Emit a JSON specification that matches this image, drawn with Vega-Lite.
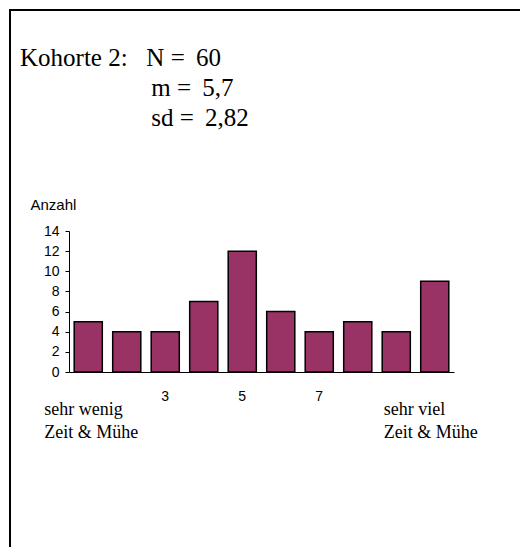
{
  "$schema": "https://vega.github.io/schema/vega-lite/v6.json",
  "width": 512,
  "height": 539,
  "autosize": {"type": "none"},
  "padding": {"left": 10, "top": 10, "right": -2, "bottom": -2},
  "background": "white",
  "config": {
    "view": {"stroke": "black", "strokeWidth": 2, "fill": "white"},
    "axis": {"labelColor": "black", "domainColor": "black", "tickColor": "black", "grid": false, "labelFont": "Liberation Sans", "labelFontSize": 14, "titleColor": "black"}
  },
  "title": {
    "text": [
      "Kohorte 2:\u00a0\u00a0\u00a0N =\u2009 60",
      "\u200b\u00a0\u00a0\u00a0\u00a0\u00a0\u00a0\u00a0\u00a0\u00a0\u00a0\u00a0\u00a0\u00a0\u00a0\u00a0\u00a0\u00a0\u00a0\u00a0\u00a0\u00a0m =\u2009 5,7",
      "\u200b\u00a0\u00a0\u00a0\u00a0\u00a0\u00a0\u00a0\u00a0\u00a0\u00a0\u00a0\u00a0\u00a0\u00a0\u00a0\u00a0\u00a0\u00a0\u00a0\u00a0\u00a0sd =\u2009 2,82"
    ],
    "anchor": "start",
    "frame": "group",
    "orient": "top",
    "baseline": "top",
    "offset": 0,
    "dx": 10,
    "dy": 121,
    "font": "Liberation Serif",
    "fontSize": 25,
    "fontWeight": "normal",
    "color": "black",
    "lineHeight": 30
  },
  "data": {
    "values": [
      {"Wert": 1, "Anzahl": 5},
      {"Wert": 2, "Anzahl": 4},
      {"Wert": 3, "Anzahl": 4},
      {"Wert": 4, "Anzahl": 7},
      {"Wert": 5, "Anzahl": 12},
      {"Wert": 6, "Anzahl": 6},
      {"Wert": 7, "Anzahl": 4},
      {"Wert": 8, "Anzahl": 5},
      {"Wert": 9, "Anzahl": 4},
      {"Wert": 10, "Anzahl": 9}
    ]
  },
  "layer": [
    {
      "mark": {"type": "bar", "color": "#993366", "stroke": "black", "strokeWidth": 1.5, "clip": false},
      "encoding": {
        "x": {
          "field": "Wert",
          "type": "ordinal",
          "scale": {"type": "band", "range": [59, 444], "paddingInner": 0.27, "paddingOuter": 0.135},
          "axis": {
            "orient": "bottom",
            "offset": -177,
            "title": null,
            "ticks": false,
            "tickSize": 0,
            "labelAngle": 0,
            "labelPadding": 17,
            "labelBaseline": "top",
            "labelExpr": "(datum.value == 3 || datum.value == 5 || datum.value == 7) ? datum.label : ''"
          }
        },
        "y": {
          "field": "Anzahl",
          "type": "quantitative",
          "scale": {"domain": [0, 14], "range": [362, 221], "nice": false},
          "axis": {
            "orient": "left",
            "offset": -59,
            "values": [0, 2, 4, 6, 8, 10, 12, 14],
            "tickSize": 4,
            "labelPadding": 6,
            "title": "Anzahl",
            "titleAngle": 0,
            "titleAlign": "left",
            "titleBaseline": "middle",
            "titleX": -39,
            "titleY": 194,
            "titleFont": "Liberation Sans",
            "titleFontSize": 15,
            "titleFontWeight": "normal"
          }
        }
      }
    },
    {
      "data": {"values": [{"Wert": 1, "text": ["sehr wenig", "Zeit & Mühe"]}]},
      "mark": {"type": "text", "align": "left", "baseline": "alphabetic", "font": "Liberation Serif", "fontSize": 18, "lineHeight": 23, "dx": -44, "dy": 43, "color": "black", "clip": false},
      "encoding": {
        "x": {"field": "Wert", "type": "ordinal"},
        "y": {"datum": 0, "type": "quantitative"},
        "text": {"field": "text"}
      }
    },
    {
      "data": {"values": [{"Wert": 10, "text": ["sehr viel", "Zeit & Mühe"]}]},
      "mark": {"type": "text", "align": "left", "baseline": "alphabetic", "font": "Liberation Serif", "fontSize": 18, "lineHeight": 23, "dx": -51, "dy": 43, "color": "black", "clip": false},
      "encoding": {
        "x": {"field": "Wert", "type": "ordinal"},
        "y": {"datum": 0, "type": "quantitative"},
        "text": {"field": "text"}
      }
    }
  ]
}
